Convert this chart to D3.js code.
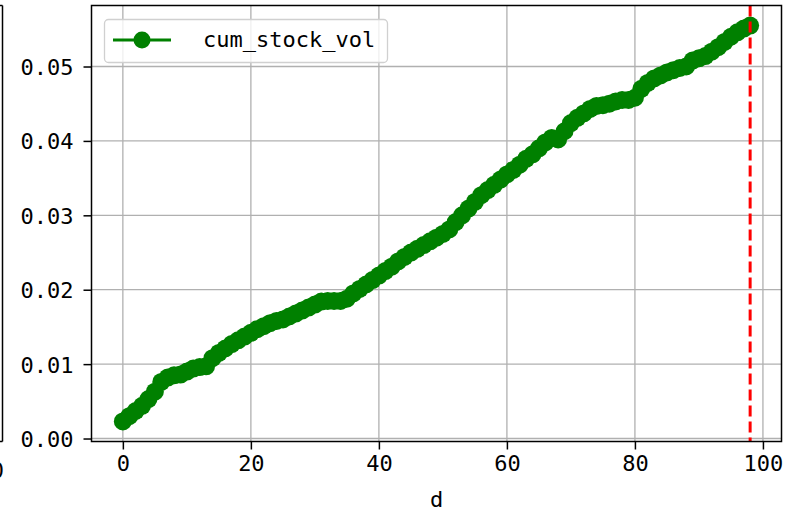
<!DOCTYPE html>
<html>
<head>
<meta charset="utf-8">
<script src="https://cdn.jsdelivr.net/npm/d3@7"></script>
<style>
  html, body { margin: 0; padding: 0; background: #fff; }
  svg { display: block; }
</style>
</head>
<body>
<div id="chart"></div>
<script>
// ---- data ----
const days = d3.range(0, 99);
const cumStockVol = [
  0.0023, 0.0030, 0.0037, 0.0044, 0.0053, 0.0063, 0.0076, 0.0082, 0.0085, 0.0086,
  0.0090, 0.0094, 0.0096, 0.0097, 0.0108, 0.0115, 0.0121, 0.0127, 0.0132, 0.0137,
  0.0142, 0.0147, 0.0151, 0.0155, 0.0158, 0.0160, 0.0164, 0.0168, 0.0172, 0.0176,
  0.0180, 0.0184, 0.0185, 0.0185, 0.0185, 0.0188, 0.0195, 0.0201, 0.0207, 0.0213,
  0.0219, 0.0225, 0.0231, 0.0238, 0.0244, 0.0250, 0.0255, 0.0260, 0.0265, 0.0270,
  0.0275, 0.0281, 0.0291, 0.0300, 0.0309, 0.0318, 0.0327, 0.0334, 0.0341, 0.0348,
  0.0355, 0.0361, 0.0368, 0.0376, 0.0382, 0.0390, 0.0398, 0.0404, 0.0402, 0.0413,
  0.0424, 0.0431, 0.0437, 0.0443, 0.0447, 0.0448, 0.0450, 0.0453, 0.0455, 0.0455,
  0.0458, 0.0470, 0.0478, 0.0484, 0.0488, 0.0492, 0.0495, 0.0498, 0.0500, 0.0508,
  0.0511, 0.0514, 0.0520, 0.0526, 0.0533, 0.0540, 0.0546, 0.0551, 0.0555
];
const xTicks = [0, 20, 40, 60, 80, 100];
const yTicks = [0.00, 0.01, 0.02, 0.03, 0.04, 0.05];
const seriesName = "cum_stock_vol";
const xLabel = "d";
const markerDay = 98;

(function () {
// ---- layout ----
const W = 787, H = 512;
const pL = 91.5, pR = 781.5, pT = 5.5, pB = 441.5;
const FONT = "'DejaVu Sans Mono', monospace";
const FS = 22;

const svg = d3.select("#chart").append("svg")
  .attr("width", W).attr("height", H)
  .style("font-family", FONT);

const x = d3.scaleLinear().domain([-4.9, 102.9]).range([pL, pR]);
const y = d3.scaleLinear().domain([-0.0004, 0.0582]).range([pB, pT]);

// neighbouring subplot sliver on the left
svg.append("line").attr("x1", 2.5).attr("x2", 2.5).attr("y1", pT).attr("y2", pB)
  .attr("stroke", "#000").attr("stroke-width", 1.5);
svg.append("line").attr("x1", 0).attr("x2", 2.5).attr("y1", pB).attr("y2", pB)
  .attr("stroke", "#000").attr("stroke-width", 1.5);
svg.append("line").attr("x1", 0).attr("x2", 2.5).attr("y1", pT).attr("y2", pT)
  .attr("stroke", "#000").attr("stroke-width", 1.5);
svg.append("text").attr("x", 4).attr("y", 478).attr("text-anchor", "end")
  .attr("font-size", FS).text("0");

// grid
const g = svg.append("g");
g.selectAll("line.gx").data(xTicks).enter().append("line")
  .attr("x1", d => x(d)).attr("x2", d => x(d)).attr("y1", pT).attr("y2", pB)
  .attr("stroke", "#b0b0b0").attr("stroke-width", 1.3);
g.selectAll("line.gy").data(yTicks).enter().append("line")
  .attr("x1", pL).attr("x2", pR).attr("y1", d => y(d)).attr("y2", d => y(d))
  .attr("stroke", "#b0b0b0").attr("stroke-width", 1.3);

// clip
svg.append("clipPath").attr("id", "clip").append("rect")
  .attr("x", pL).attr("y", pT).attr("width", pR - pL).attr("height", pB - pT);
const plot = svg.append("g").attr("clip-path", "url(#clip)");

const pts = days.map((d, i) => [d, cumStockVol[i]]);
plot.append("path").datum(pts)
  .attr("d", d3.line().x(p => x(p[0])).y(p => y(p[1])))
  .attr("fill", "none").attr("stroke", "#008000").attr("stroke-width", 3);
plot.selectAll("circle.m").data(pts).enter().append("circle")
  .attr("cx", p => x(p[0])).attr("cy", p => y(p[1])).attr("r", 9)
  .attr("fill", "#008000");

// red dashed vertical line
plot.append("line")
  .attr("x1", x(markerDay)).attr("x2", x(markerDay)).attr("y1", pT).attr("y2", pB)
  .attr("stroke", "#ff0000").attr("stroke-width", 3).attr("stroke-dasharray", "11,5");

// axes
const xAxis = d3.axisBottom(x).tickValues(xTicks).tickSize(8).tickPadding(6)
  .tickFormat(d3.format("d"));
const yAxis = d3.axisLeft(y).tickValues(yTicks).tickSize(8).tickPadding(10)
  .tickFormat(d3.format(".2f"));
const gx = svg.append("g").attr("transform", `translate(0,${pB})`).call(xAxis);
const gy = svg.append("g").attr("transform", `translate(${pL},0)`).call(yAxis);
[gx, gy].forEach(a => {
  a.select(".domain").remove();
  a.selectAll(".tick line").attr("stroke", "#000").attr("stroke-width", 1.5);
  a.selectAll(".tick text").attr("font-family", FONT).attr("font-size", FS).attr("fill", "#000");
});
gy.selectAll(".tick text").attr("dy", "0.36em");

// frame
svg.append("rect").attr("x", pL).attr("y", pT)
  .attr("width", pR - pL).attr("height", pB - pT)
  .attr("fill", "none").attr("stroke", "#000").attr("stroke-width", 1.5);

// x label
svg.append("text").attr("x", (pL + pR) / 2).attr("y", 507)
  .attr("text-anchor", "middle").attr("font-size", FS).text(xLabel);

// legend
const lg = svg.append("g");
lg.append("rect").attr("x", 104.5).attr("y", 19.5).attr("width", 283).attr("height", 43)
  .attr("rx", 4).attr("fill", "#fff").attr("fill-opacity", 0.8)
  .attr("stroke", "#d0d0d0").attr("stroke-width", 1.3);
lg.append("line").attr("x1", 113).attr("x2", 171).attr("y1", 40).attr("y2", 40)
  .attr("stroke", "#008000").attr("stroke-width", 3);
lg.append("circle").attr("cx", 142).attr("cy", 40).attr("r", 8.5).attr("fill", "#008000");
lg.append("text").attr("x", 203).attr("y", 47).attr("font-size", FS).text(seriesName);
})();
</script>
</body>
</html>
